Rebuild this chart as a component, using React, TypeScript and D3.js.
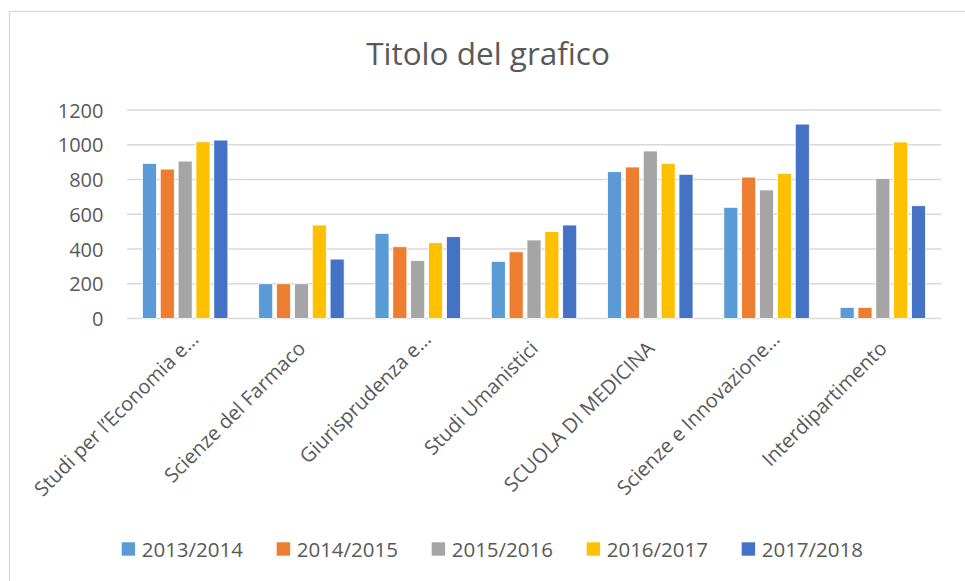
import React from "react";
import * as d3 from "d3";

const categories = [
  "Studi per l’Economia e…",
  "Scienze del Farmaco",
  "Giurisprudenza e…",
  "Studi Umanistici",
  "SCUOLA DI MEDICINA",
  "Scienze e Innovazione…",
  "Interdipartimento",
];
const seriesNames = ["2013/2014", "2014/2015", "2015/2016", "2016/2017", "2017/2018"];
const s2013 = [893, 200, 490, 329, 845, 640, 64];
const s2014 = [860, 200, 413, 384, 872, 814, 64];
const s2015 = [906, 200, 333, 452, 964, 740, 805];
const s2016 = [1017, 538, 436, 500, 893, 835, 1016];
const s2017 = [1027, 342, 471, 538, 830, 1119, 649];
const yTicks = [0, 200, 400, 600, 800, 1000, 1200];
const colors = ["#5B9BD5", "#ED7D31", "#A5A5A5", "#FFC000", "#4472C4"];

const seriesValues = [s2013, s2014, s2015, s2016, s2017];

const W = 965;
const H = 581;
const FONT = "'Open Sans', 'Noto Sans', sans-serif";
const TEXT = "#595959";
const GRID = "#D9D9D9";

export default function App() {
  const x = d3.scaleBand<string>().domain(categories).range([127, 941]).padding(0);
  const y = d3.scaleLinear().domain([0, 1200]).range([318.5, 110]);
  const band = x.bandwidth();
  const overlap = 0.27;
  const gap = 2.19;
  const n = seriesNames.length;
  const bw = band / (n + (n - 1) * overlap + gap);
  const groupW = n * bw + (n - 1) * overlap * bw;
  const inner = d3
    .scaleLinear()
    .domain([0, 1])
    .range([(band - groupW) / 2, (band - groupW) / 2 + bw * (1 + overlap)]);

  return (
    <div style={{ position: "absolute", left: 0, top: 0, width: W, height: H, background: "#fff" }}>
      <svg width={W} height={H} style={{ display: "block" }} fontFamily={FONT}>
        <rect x={0} y={0} width={W} height={H} fill="#fff" />
        <rect x={9.5} y={11.5} width={W} height={H} fill="#fff" stroke={GRID} strokeWidth={1.3} />
        <text x={488} y={65} textAnchor="middle" fontSize={31.5} fill={TEXT}>
          Titolo del grafico
        </text>
        {yTicks.map((t) => (
          <g key={t}>
            <line x1={127} x2={941} y1={y(t)} y2={y(t)} stroke={GRID} strokeWidth={1.3} />
            <text x={103.5} y={y(t)} textAnchor="end" dominantBaseline="central" fontSize={20} fill={TEXT}>
              {t}
            </text>
          </g>
        ))}
        {seriesValues.map((vals, si) => (
          <g key={si}>
            {vals.map((v, ci) => (
              <rect
                key={ci}
                x={(x(categories[ci]) as number) + inner(si)}
                y={y(v)}
                width={bw}
                height={y(0) - y(v)}
                fill={colors[si]}
                stroke="#fff"
                strokeWidth={0.8}
              />
            ))}
          </g>
        ))}
        {categories.map((c) => {
          const cx = (x(c) as number) + band / 2;
          const truncated = c.endsWith("…");
          return (
            <text
              key={c}
              transform={`translate(${cx},344.5) rotate(-45)`}
              dx={truncated ? 13 : 0}
              textAnchor="end"
              dominantBaseline="central"
              fontSize={20}
              fill={TEXT}
            >
              {c}
            </text>
          );
        })}
        {seriesNames.map((s, i) => (
          <g key={s} transform={`translate(${121.7 + i * 155},549)`}>
            <rect x={0} y={-6.7} width={13.4} height={13.4} fill={colors[i]} />
            <text x={20} y={0} dominantBaseline="central" fontSize={20.5} fill={TEXT}>
              {s}
            </text>
          </g>
        ))}
      </svg>
    </div>
  );
}
